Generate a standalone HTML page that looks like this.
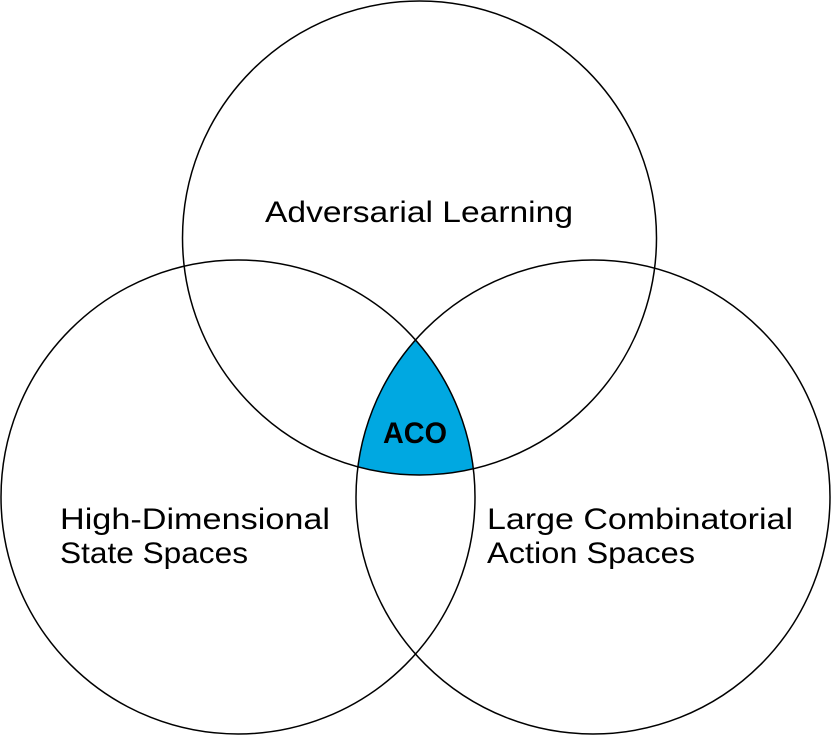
<!DOCTYPE html>
<html><head><meta charset="utf-8"><style>
html,body{margin:0;padding:0;background:#fff;}
svg{display:block;}
text{font-family:"Liberation Sans","DejaVu Sans",sans-serif;font-size:30px;fill:#000;}
</style></head><body>
<svg width="831" height="735" viewBox="0 0 831 735">
<path d="M415.5 340 A237 237 0 0 0 357.9 466.9 A237 237 0 0 0 473.3 468.8 A237 237 0 0 0 415.5 340 Z" fill="#00a8e1"/>
<circle cx="419.5" cy="238" r="237" fill="none" stroke="#000" stroke-width="1.5"/>
<circle cx="238" cy="497" r="237" fill="none" stroke="#000" stroke-width="1.5"/>
<circle cx="593" cy="497" r="237" fill="none" stroke="#000" stroke-width="1.5"/>
<text x="265" y="222" textLength="308" lengthAdjust="spacingAndGlyphs">Adversarial Learning</text>
<text x="383" y="443" font-weight="bold" textLength="64" lengthAdjust="spacingAndGlyphs">ACO</text>
<text x="60" y="529" textLength="270" lengthAdjust="spacingAndGlyphs">High-Dimensional</text>
<text x="60" y="563" textLength="188" lengthAdjust="spacingAndGlyphs">State Spaces</text>
<text x="487" y="529" textLength="306" lengthAdjust="spacingAndGlyphs">Large Combinatorial</text>
<text x="487" y="563" textLength="208" lengthAdjust="spacingAndGlyphs">Action Spaces</text>
</svg>
</body></html>
